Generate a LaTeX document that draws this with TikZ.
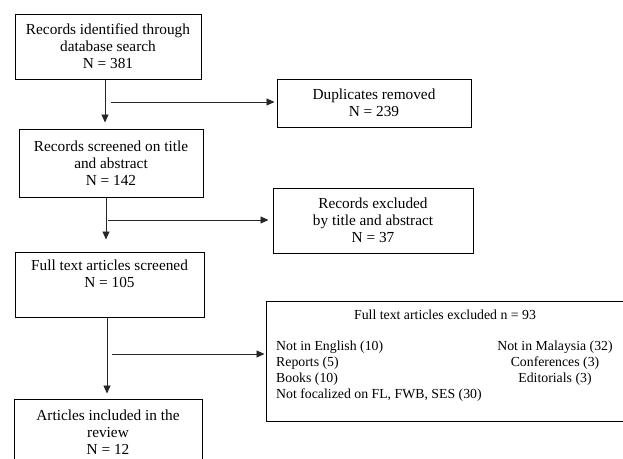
\documentclass[tikz,border=0pt]{standalone}
\usepackage{fontspec}
\setmainfont{Liberation Serif}
\usetikzlibrary{arrows.meta}
\begin{document}
\begin{tikzpicture}[x=1pt,y=-1pt,
  box/.style={draw=black,line width=1pt,rectangle,inner sep=0pt,align=center,
    font=\fontsize{15.3}{17}\selectfont},
  small/.style={inner sep=0pt,font=\fontsize{13.8}{16}\selectfont},
  arr/.style={draw=black!85,line width=0.9pt,-{Triangle[length=8pt,width=7pt]}}]
\useasboundingbox (0,0) rectangle (623,458);
\clip (0,0) rectangle (623,458);
\fill[white] (0,0) rectangle (623,458);
\node[box,minimum width=186pt,minimum height=65pt] (b1) at (108,46.5)
  {Records identified through\\database search\\N = 381};
\node[box,minimum width=194pt,minimum height=48pt] (b2) at (374,103)
  {Duplicates removed\\N = 239};
\node[box,minimum width=184pt,minimum height=68pt] (b3) at (111,163)
  {Records screened on title\\and abstract\\N = 142};
\node[box,minimum width=200pt,minimum height=65pt] (b4) at (373,220.5)
  {Records excluded\\by title and abstract\\N = 37};
\node[box,minimum width=189pt,minimum height=65pt] (b5) at (109.5,284.5)
  {Full text articles screened\\N = 105\\\strut};
\node[box,minimum width=358pt,minimum height=120pt] (b6) at (445,361) {};
\node[box,minimum width=188pt,minimum height=66pt] (b7) at (108,432)
  {Articles included in the\\review\\N = 12};
\node[small] (t6) at (445,315) {Full text articles excluded n = 93};
\node[small,align=left,anchor=west] (l6) at (276,371)
  {Not in English (10)\\Reports (5)\\Books (10)\\Not focalized on FL, FWB, SES (30)};
\node[small,align=center] (r6) at (555,363)
  {Not in Malaysia (32)\\Conferences (3)\\Editorials (3)};
% vertical connectors
\draw[arr,shorten >=6pt] ([xshift=-3pt]b1.south) -- ([xshift=-3pt]b1.south |- b3.north);
\draw[arr,shorten >=12pt] ([xshift=-5pt]b3.south) -- ([xshift=-5pt]b3.south |- b5.north);
\draw[arr,shorten >=5pt] ([xshift=-2.5pt]b5.south) -- ([xshift=-2.5pt]b5.south |- b7.north);
% horizontal connectors
\coordinate (h1) at (111,102);
\coordinate (h2) at (108,220);
\coordinate (h3) at (112,354);
\draw[arr,shorten >=2pt] (h1) -- (h1 -| b2.west);
\draw[arr,shorten >=4pt] (h2) -- (h2 -| b4.west);
\draw[arr,shorten >=1pt] (h3) -- (h3 -| b6.west);
\end{tikzpicture}
\end{document}
